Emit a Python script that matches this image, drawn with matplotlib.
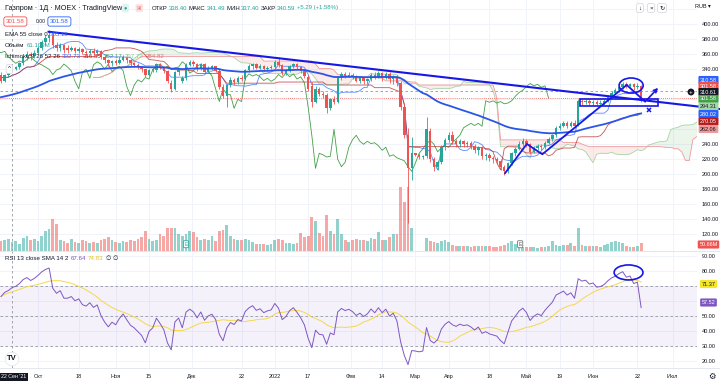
import numpy as np
import pandas as pd
import matplotlib
matplotlib.use('Agg')
import matplotlib.pyplot as plt
from matplotlib.patches import Ellipse, Rectangle
import matplotlib.transforms as mtransforms

plt.rcParams['font.family'] = ['Liberation Sans', 'DejaVu Sans']

# daily bars, Gazprom MOEX, volume in millions
opens = [333, 325, 332, 338.4, 340.6, 343, 348, 356, 360, 358,
         362, 368, 376, 382, 384, 372, 368, 372, 368, 366,
         368, 365, 367, 363, 362, 365, 362, 364, 357, 352,
         348, 351, 349, 353, 356, 352, 348, 346, 343, 340,
         333, 339, 339, 347, 343, 338, 322, 314, 336, 324,
         328, 346, 350, 347, 340, 347, 337, 342, 344, 338,
         317, 305, 319, 326, 323, 329, 327, 339, 344, 347,
         342, 344, 340, 342, 343, 350, 346, 335, 338, 344,
         347, 343, 338, 330, 318, 297, 314, 307, 306, 288,
         300, 297, 328, 334, 331, 333, 330, 325, 328, 324,
         327, 333, 329, 335, 330, 334, 327, 330, 322, 290,
         252, 208, 228, 226, 223, 224, 258, 220, 210, 216,
         236, 246, 252, 244, 240, 244, 241, 242, 238, 232,
         236, 224, 226, 222, 220, 218, 210, 204, 215, 228,
         234, 241, 245, 240, 230, 235, 238, 236, 242, 247,
         252, 262, 265, 268, 265, 268, 266, 298, 296, 298,
         295, 297, 294, 295, 298, 304, 309, 312, 317, 321,
         318, 320, 316, 318]
highs = [336, 334, 337, 341.49, 345, 350, 358, 364, 363, 366,
         371, 379, 386, 392, 388, 376, 375, 374, 372, 371,
         370, 370, 369, 366, 367, 368, 367, 366, 359, 354,
         353, 354, 356, 359, 358, 354, 350, 349, 345, 341,
         341, 343, 349, 349, 345, 339, 326, 338, 342, 331,
         348, 352, 353, 349, 349, 348, 344, 346, 345, 340,
         320, 321, 330, 328, 331, 332, 340, 347, 349, 349,
         347, 346, 345, 346, 352, 356, 347, 341, 346, 349,
         349, 345, 341, 332, 323, 318, 317, 311, 309, 302,
         304, 331, 336, 337, 336, 335, 332, 330, 330, 329,
         335, 336, 338, 337, 336, 336, 333, 332, 324, 295,
         262, 250, 229, 228, 226, 276, 262, 223, 219, 239,
         249, 256, 258, 247, 247, 246, 245, 244, 240, 238,
         238, 229, 229, 225, 223, 220, 213, 217, 230, 237,
         244, 249, 247, 242, 238, 241, 241, 244, 250, 254,
         265, 268, 271, 271, 271, 273, 300, 301, 300, 300,
         299, 299, 299, 300, 306, 311, 315, 320, 323, 323,
         322, 322, 322, 319]
lows = [322, 323, 330, 337.4, 339, 341, 346, 352, 353, 355,
        360, 366, 373, 376, 368, 364, 365, 362, 362, 364,
        362, 362, 360, 358, 360, 359, 359, 354, 349, 345,
        345, 346, 347, 351, 349, 345, 343, 340, 336, 330,
        331, 336, 337, 341, 335, 322, 310, 312, 333, 322,
        326, 344, 345, 338, 339, 335, 335, 339, 336, 314,
        302, 290, 317, 319, 321, 324, 326, 337, 341, 340,
        340, 338, 338, 340, 341, 343, 332, 332, 336, 342,
        341, 335, 329, 311, 290, 295, 304, 302, 282, 286,
        294, 295, 326, 329, 330, 327, 323, 322, 321, 321,
        325, 327, 328, 325, 327, 322, 320, 318, 286, 248,
        135.7, 192, 224, 221, 220, 222, 216, 205, 206, 214,
        233, 243, 241, 236, 237, 236, 236, 234, 229, 226,
        221, 219, 218, 215, 214, 206, 199, 202, 213, 225,
        232, 238, 237, 227, 228, 233, 233, 234, 240, 245,
        250, 259, 263, 262, 263, 262, 265, 293, 294, 293,
        293, 292, 292, 293, 296, 302, 307, 310, 314, 315,
        316, 313, 314, 297]
closes = [325, 332, 335.3, 340.59, 343, 348, 356, 360, 358, 362,
          368, 376, 382, 386, 372, 368, 372, 366, 366, 368,
          365, 367, 363, 362, 365, 362, 364, 357, 352, 348,
          351, 349, 353, 356, 352, 348, 346, 343, 340, 333,
          339, 341, 347, 343, 338, 324, 314, 336, 340, 328,
          346, 350, 347, 340, 347, 337, 342, 344, 338, 317,
          305, 319, 326, 323, 329, 327, 339, 344, 347, 342,
          344, 340, 342, 343, 350, 346, 335, 338, 344, 347,
          343, 338, 331, 314, 297, 314, 307, 306, 288, 300,
          297, 328, 334, 331, 333, 330, 325, 328, 324, 327,
          333, 329, 335, 330, 334, 327, 330, 322, 290, 252,
          208, 228, 226, 223, 224, 260, 220, 210, 216, 236,
          246, 252, 244, 240, 244, 241, 242, 238, 232, 236,
          224, 226, 222, 220, 218, 210, 204, 215, 228, 234,
          241, 245, 240, 230, 235, 238, 236, 242, 247, 252,
          262, 265, 268, 265, 268, 264, 298, 296, 298, 295,
          297, 294, 295, 298, 304, 309, 312, 317, 321, 318,
          320, 316, 318, 301.58]
volumes = [66, 70, 77, 61.1, 66, 44, 84, 99, 70, 77,
           66, 99, 132, 143, 213, 176, 70, 66, 55, 80,
           60, 55, 70, 66, 50, 60, 55, 70, 80, 92,
           70, 60, 55, 66, 60, 70, 66, 77, 90, 132,
           80, 66, 70, 110, 100, 154, 150, 150, 110, 100,
           115, 130, 125, 90, 70, 80, 70, 100, 66, 130,
           140, 172, 100, 80, 75, 70, 80, 75, 60, 46,
           45, 46, 40, 46, 70, 80, 75, 55, 50, 46,
           50, 120, 90, 100, 224, 200, 120, 100, 238, 130,
           110, 213, 110, 70, 60, 70, 80, 70, 75, 66,
           85, 80, 125, 75, 70, 90, 110, 110, 418, 320,
           418, 154, 2, 2, 2, 88, 66, 60, 55, 66,
           70, 60, 40, 35, 30, 30, 30, 28, 32, 30,
           35, 30, 30, 28, 28, 35, 40, 50, 66, 45,
           30, 25, 25, 28, 25, 22, 25, 28, 30, 66,
           40, 35, 40, 38, 50, 35, 150, 40, 35, 30,
           35, 30, 28, 40, 45, 60, 66, 60, 50, 30,
           25, 28, 30, 50.66]

time_labels = ['Окт', '18', 'Ноя', '15', 'Дек', '22', '2022', '17', 'Фев', '14',
               'Мар', 'Апр', '18', 'Май', '19', 'Июн', '22', 'Июл']
time_ticks = [10, 21, 31, 40, 51.5, 65, 74, 83, 94.5, 103,
              112, 121, 132, 142, 151, 160, 172, 181.5]
price_ticks = [400, 380, 360, 340, 240, 220, 200, 180, 160, 140, 120]
rsi_ticks = [90, 80, 50, 40, 30, 20]

# indicator seeds (history before first bar)
ema_seed = 302.0
prev_close = 333.0
rsi_seed_gain, rsi_seed_loss = 5.0, 2.3
crosshair_bar, crosshair_price = 3, 310.61

# user drawings, anchored in (bar, price)
trend_line = [(12.8, 390.1), (194.3, 287.0)]
zigzag = [(136.2, 201.3), (142.1, 240.4), (146.3, 226.7), (169.1, 319.1), (174.1, 296.8)]
arrow_tip = (178.1, 318.0)
cross_mark = (175.1, 285.7)
zone_box = (156.5, 291.3, 177.6, 300.0)
price_circle = (170.3, 318.4, 6.5, 20.0)
rsi_circle = (169.6, 78.8, 7.8, 10.0)

UP, DOWN = '#26a69a', '#ef5350'
PEN = '#1717e6'
GRID = '#f0f3fa'
INK = '#131722'

df = pd.DataFrame({'o': opens, 'h': highs, 'l': lows, 'c': closes, 'v': volumes})
n = len(df)
x = np.arange(n)

# EMA 55
k = 2 / 56
ema = []
e = ema_seed
for c in closes:
    e = e + k * (c - e)
    ema.append(e)

# Ichimoku 9 26 52 26
def midline(p):
    return (df.h.rolling(p, min_periods=1).max() + df.l.rolling(p, min_periods=1).min()) / 2

conv = midline(9)
base = midline(26)
span_a = ((conv + base) / 2).values
span_b = midline(52).values
shift = 25

# RSI 13 (Wilder) + SMA 14
delta = np.diff(np.r_[prev_close, closes])
g, l = rsi_seed_gain, rsi_seed_loss
rsi = []
for d in delta:
    g = (g * 12 + max(d, 0)) / 13
    l = (l * 12 + max(-d, 0)) / 13
    rsi.append(100 - 100 / (1 + g / l))
rsi = np.array(rsi)
rsi_ma = pd.Series(rsi).rolling(14, min_periods=1).mean().values

fig = plt.figure(figsize=(7.2, 3.86), dpi=100)
fig.patch.set_facecolor('white')

ax = fig.add_axes([0, 1 - 251 / 386, 697 / 720, 251 / 386])
ax_rsi = fig.add_axes([0, 1 - 368 / 386, 697 / 720, 117 / 386])
ax_vol = ax.twinx()
ax.set_zorder(ax_vol.get_zorder() + 1)
ax.patch.set_visible(False)

ylo, yhi = 97.7, 432.4
vmax = 1651
for a in (ax, ax_rsi, ax_vol):
    a.set_xlim(-0.27, 188.1)
    for s in a.spines.values():
        s.set_visible(False)
ax.set_ylim(ylo, yhi)
ax_vol.set_ylim(0, vmax)
ax_rsi.set_ylim(15.1, 93.1)

# grid (drawn on the back axes so it sits under everything)
for p in range(120, 440, 20):
    ax_vol.axhline((p - ylo) / (yhi - ylo) * vmax, color=GRID, lw=0.7, zorder=0)
for v in range(20, 100, 10):
    ax_rsi.axhline(v, color=GRID, lw=0.7, zorder=0)
for t in time_ticks:
    ax_vol.axvline(t, color=GRID, lw=0.7, zorder=0)
    ax_rsi.axvline(t, color=GRID, lw=0.7, zorder=0)

# volume
up = df.c.values >= df.o.values
vcol = np.where(up, UP, DOWN)
ax_vol.bar(x, df.v, width=0.75, color=vcol, alpha=0.5, lw=0, zorder=1)
ax_vol.set_yticks([])

# ichimoku cloud and lines
xa = x + shift
ax.fill_between(xa, span_a, span_b, where=span_a >= span_b, interpolate=True,
                color='#43a047', alpha=0.1, lw=0, zorder=1)
ax.fill_between(xa, span_a, span_b, where=span_a < span_b, interpolate=True,
                color='#f44336', alpha=0.1, lw=0, zorder=1)
ax.plot(xa, span_a, color='#a5d6a7', lw=0.6, zorder=2)
ax.plot(xa, span_b, color='#ef9a9a', lw=0.6, zorder=2)
ax.plot(x - shift, closes, color='#43a047', lw=0.6, zorder=2)
ax.plot(x, conv, color='#2962ff', lw=0.6, alpha=0.75, zorder=2)
ax.plot(x, base, color='#b71c1c', lw=0.6, alpha=0.75, zorder=2)

# candles
ax.vlines(x, df.l, df.h, colors=vcol, lw=0.6, zorder=3)
ax.bar(x, np.maximum(np.abs(df.c - df.o), 0.6), bottom=np.minimum(df.o, df.c),
       width=0.65, color=vcol, lw=0, zorder=3)

# EMA 55
ax.plot(x, ema, color='#2a55e8', lw=1.3, zorder=4)

# last price / crosshair
ax.axhline(closes[-1], color=DOWN, lw=0.6, ls=(0, (1, 1.5)), zorder=2)
ax.axhline(crosshair_price, color='#9598a1', lw=0.6, ls=(0, (3, 3)), zorder=2)
ax.axvline(crosshair_bar, color='#9598a1', lw=0.6, ls=(0, (3, 3)), zorder=2)
ax_rsi.axvline(crosshair_bar, color='#9598a1', lw=0.6, ls=(0, (3, 3)), zorder=2)

# user drawings
(tx0, ty0), (tx1, ty1) = trend_line
ax.plot([tx0, tx1], [ty0, ty1], color=PEN, lw=1.5, zorder=6, clip_on=False,
        solid_capstyle='round')
zx, zy = zip(*zigzag)
ax.plot(zx, zy, color=PEN, lw=1.3, zorder=6, solid_capstyle='round')
ax.annotate('', xy=arrow_tip, xytext=zigzag[-1],
            arrowprops=dict(arrowstyle='->', color=PEN, lw=1.2, mutation_scale=6),
            zorder=6)
ax.plot(*cross_mark, marker='x', ms=3.5, mew=1.1, color=PEN, zorder=6)
bx0, by0, bx1, by1 = zone_box
ax.add_patch(Rectangle((bx0, by0), bx1 - bx0, by1 - by0, fill=False, ec=PEN, lw=1.2, zorder=6))
cx, cy, cw, ch = price_circle
ax.add_patch(Ellipse((cx, cy), cw, ch, fill=False, ec=PEN, lw=1.2, zorder=6))

# RSI pane
ax_rsi.axhspan(30, 70, color='#7e57c2', alpha=0.08, lw=0, zorder=0)
for v in (70, 50, 30):
    ax_rsi.axhline(v, color='#9598a1', lw=0.6, ls=(0, (3, 3)), zorder=1)
ax_rsi.plot(x, rsi_ma, color='#f4d84a', lw=0.7, zorder=2)
ax_rsi.plot(x, rsi, color='#7e57c2', lw=0.7, zorder=3)
rx, ry, rw, rh = rsi_circle
ax_rsi.add_patch(Ellipse((rx, ry), rw, rh, fill=False, ec=PEN, lw=1.2, zorder=6))

# axes ticks
ax.yaxis.tick_right()
ax.set_yticks(price_ticks, [f'{v:.2f}' for v in price_ticks])
ax.tick_params(axis='y', length=0, pad=3.5, labelsize=4.0, labelcolor=INK)
ax.set_xticks([])
ax_rsi.yaxis.tick_right()
ax_rsi.set_yticks(rsi_ticks, [f'{v:.2f}' for v in rsi_ticks])
ax_rsi.tick_params(axis='y', length=0, pad=3.5, labelsize=4.0, labelcolor=INK)
ax_rsi.set_xticks(time_ticks, time_labels)
ax_rsi.tick_params(axis='x', length=0, pad=4, labelsize=4.0, labelcolor=INK)

# earnings markers
mark = mtransforms.blended_transform_factory(ax_vol.transData, ax_vol.transAxes)
ax_vol.text(50, 0.027, 'E', transform=mark, ha='center', va='center', fontsize=3.6,
            color=UP, bbox=dict(boxstyle='round,pad=0.2', fc='white', ec=UP, lw=0.6), zorder=5)
ax_vol.text(140.3, 0.027, 'E', transform=mark, ha='center', va='center', fontsize=3.6,
            color='#555', bbox=dict(boxstyle='round,pad=0.2', fc='white', ec='#777', lw=0.6), zorder=5)

# separators
fig.add_artist(plt.Line2D([0, 1], [1 - 251 / 386] * 2, color='#e0e3eb', lw=0.6))
fig.add_artist(plt.Line2D([0, 1], [1 - 368 / 386] * 2, color='#e0e3eb', lw=0.6))

renderer = fig.canvas.get_renderer()


def ftext(xp, yp, s, **kw):
    kw.setdefault('va', 'center')
    kw.setdefault('ha', 'left')
    return fig.text(xp / 720, 1 - yp / 386, s, **kw)


def chain(xp, yp, pieces, fs=4.4, gap=2.0):
    # lay texts out one after another so they never overlap
    for s, c in pieces:
        t = ftext(xp, yp, s, fontsize=fs, color=c)
        xp += t.get_window_extent(renderer).width + gap
    return xp


def vbox(yp, s, fc, tc='white', xp=708.5, fs=4.0):
    ftext(xp, yp, s, ha='center', fontsize=fs, color=tc,
          bbox=dict(boxstyle='round,pad=0.28,rounding_size=0.2', fc=fc, ec='none'))


# header
ftext(5, 8, 'Газпром · 1Д · MOEX · TradingView', fontsize=5.2, color=INK)
ftext(124, 8, '●', fontsize=4, color=UP,
      bbox=dict(boxstyle='round,pad=0.3', fc='#e0f2f1', ec='none'))
ftext(137, 8, 'Ж', fontsize=3.5, color=DOWN,
      bbox=dict(boxstyle='round,pad=0.3', fc='#fde2e2', ec='none'))
chain(152, 8, [('ОТКР', INK), ('338.40', UP), ('МАКС', INK), ('341.49', UP),
               ('МИН', INK), ('337.40', UP), ('ЗАКР', INK), ('340.59', UP),
               ('+5.29 (+1.58%)', UP)], fs=4.3, gap=1.2)
ftext(6, 21.5, '301.58', fontsize=4.4, color=DOWN,
      bbox=dict(boxstyle='round,pad=0.35', fc='white', ec=DOWN, lw=0.6))
ftext(36, 21.5, '0.00', fontsize=3.6, color=INK)
ftext(50, 21.5, '301.58', fontsize=4.4, color='#2962ff',
      bbox=dict(boxstyle='round,pad=0.35', fc='white', ec='#2962ff', lw=0.6))
chain(5, 34, [('EMA 55 close 0', INK), ('305.18', '#2962ff')])
chain(5, 45.5, [('Объём', INK), ('61.109M', UP)])
chain(5, 57, [('Ichimoku 9 26 52 26', INK), ('332.73', '#2962ff'), ('316.85', '#b71c1c'),
              ('362.17', '#43a047'), ('297.72', '#8fc992'), ('284.82', '#e57373')])
ftext(8, 69, '^', fontsize=4.5, color=INK,
      bbox=dict(boxstyle='round,pad=0.3', fc='white', ec='#d1d4dc', lw=0.5))

chain(5, 259, [('RSI 13 close SMA 14 2', INK), ('67.64', '#7e57c2'),
               ('74.83', '#e6c229'), ('∅', INK), ('∅', INK)])

# top right controls
for xp, s in [(640, '↓'), (651, '×'), (662, '↻')]:
    ftext(xp, 8, s, ha='center', fontsize=4.5, color=INK,
          bbox=dict(boxstyle='round,pad=0.3', fc='white', ec='#d1d4dc', lw=0.5))
ftext(703, 7, 'RUB ▾', ha='center', fontsize=4.0, color=INK)

# right scale value boxes
vbox(80, '310.58', '#2962ff')
vbox(86, '301.58', DOWN)
vbox(92, '310.61', INK)
vbox(99, '301.58', '#43a047')
vbox(106.5, '294.31', '#a5d6a7', tc=INK)
vbox(114, '280.02', '#2962ff')
vbox(121.5, '270.05', '#b71c1c')
vbox(129, '262.06', '#ef9a9a', tc=INK)
vbox(244.5, '50.66M', DOWN)
vbox(284, '71.37', '#f5e626', tc=INK)
vbox(302.5, '57.52', '#7e57c2')
ftext(691, 92, '+', ha='center', fontsize=4.5, color='white',
      bbox=dict(boxstyle='circle,pad=0.15', fc=INK, ec='none'))

# bottom
ftext(1, 377, "22 Сен '21", fontsize=3.8, color='white',
      bbox=dict(boxstyle='square,pad=0.35', fc=INK, ec='none'))
ftext(12, 359, 'TV', ha='center', fontsize=5.5, weight='bold', color=INK,
      bbox=dict(boxstyle='circle,pad=0.25', fc='white', ec='#e0e3eb', lw=0.5))
ftext(712, 377, '⚙', ha='center', fontsize=6, color=INK)

fig.savefig('out.png', dpi=100)
